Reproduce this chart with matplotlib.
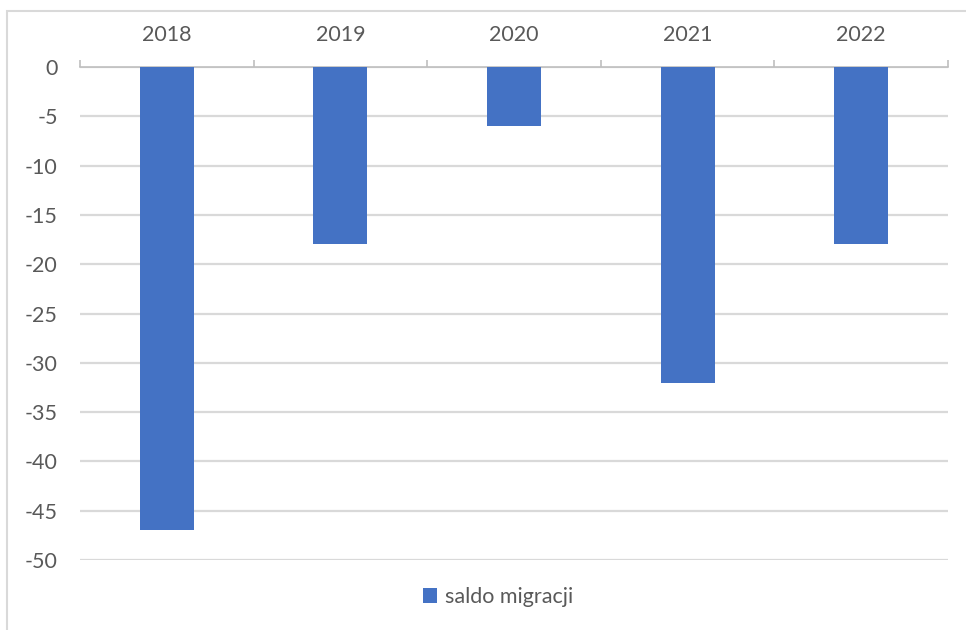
import numpy as np
import matplotlib
matplotlib.use('Agg')
import matplotlib.pyplot as plt
from matplotlib.patches import Rectangle

# data
years = ['2018', '2019', '2020', '2021', '2022']
saldo = [-47, -18, -6, -32, -18]
yticks = list(range(0, -51, -5))

bar_color = '#4472C4'
txt_color = '#595959'
grid_color = '#d9d9d9'

plt.rcParams['font.family'] = ['Lato', 'DejaVu Sans']

fig = plt.figure(figsize=(9.66, 6.3), dpi=100)
ax = fig.add_axes([80/966, 1 - 560/630, (948 - 80)/966, (560 - 67)/630])

x = np.arange(len(years))
ax.bar(x, saldo, width=0.31, color=bar_color, zorder=3, label='saldo migracji')

ax.set_xlim(-0.5, len(years) - 0.5)
ax.set_ylim(-50, 0)

# category labels along the zero line at the top
ax.xaxis.tick_top()
ax.set_xticks(x)
ax.set_xticklabels(years)
ax.set_xticks(np.arange(-0.5, len(years)), minor=True)
ax.tick_params(axis='x', which='major', length=0, pad=16, labelsize=15.5, labelcolor=txt_color)
ax.tick_params(axis='x', which='minor', length=5, width=1.2, color='#bfbfbf', direction='out')

ax.set_yticks(yticks)
ax.set_yticklabels([str(v) for v in yticks])
ax.tick_params(axis='y', length=0, pad=16, labelsize=15.5, labelcolor=txt_color)

ax.yaxis.grid(True, color=grid_color, linewidth=1.6, zorder=0)
ax.set_axisbelow(True)

for s in ['left', 'right', 'bottom']:
    ax.spines[s].set_visible(False)
ax.spines['top'].set_color('#bfbfbf')
ax.spines['top'].set_linewidth(1.2)

leg = fig.legend(loc='center', bbox_to_anchor=(498/966, 1 - 597/630), frameon=False,
                 fontsize=15.5, handlelength=0.65, handleheight=0.65, handletextpad=0.35,
                 labelcolor=txt_color)

# outer chart border (cut off at the right and bottom)
fig.patches.append(Rectangle((7/966, -0.05), 1.1, 1 - 11/630 + 0.05, transform=fig.transFigure,
                             fill=False, edgecolor=grid_color, linewidth=1.5, clip_on=False))

fig.savefig('out.png', dpi=100)
